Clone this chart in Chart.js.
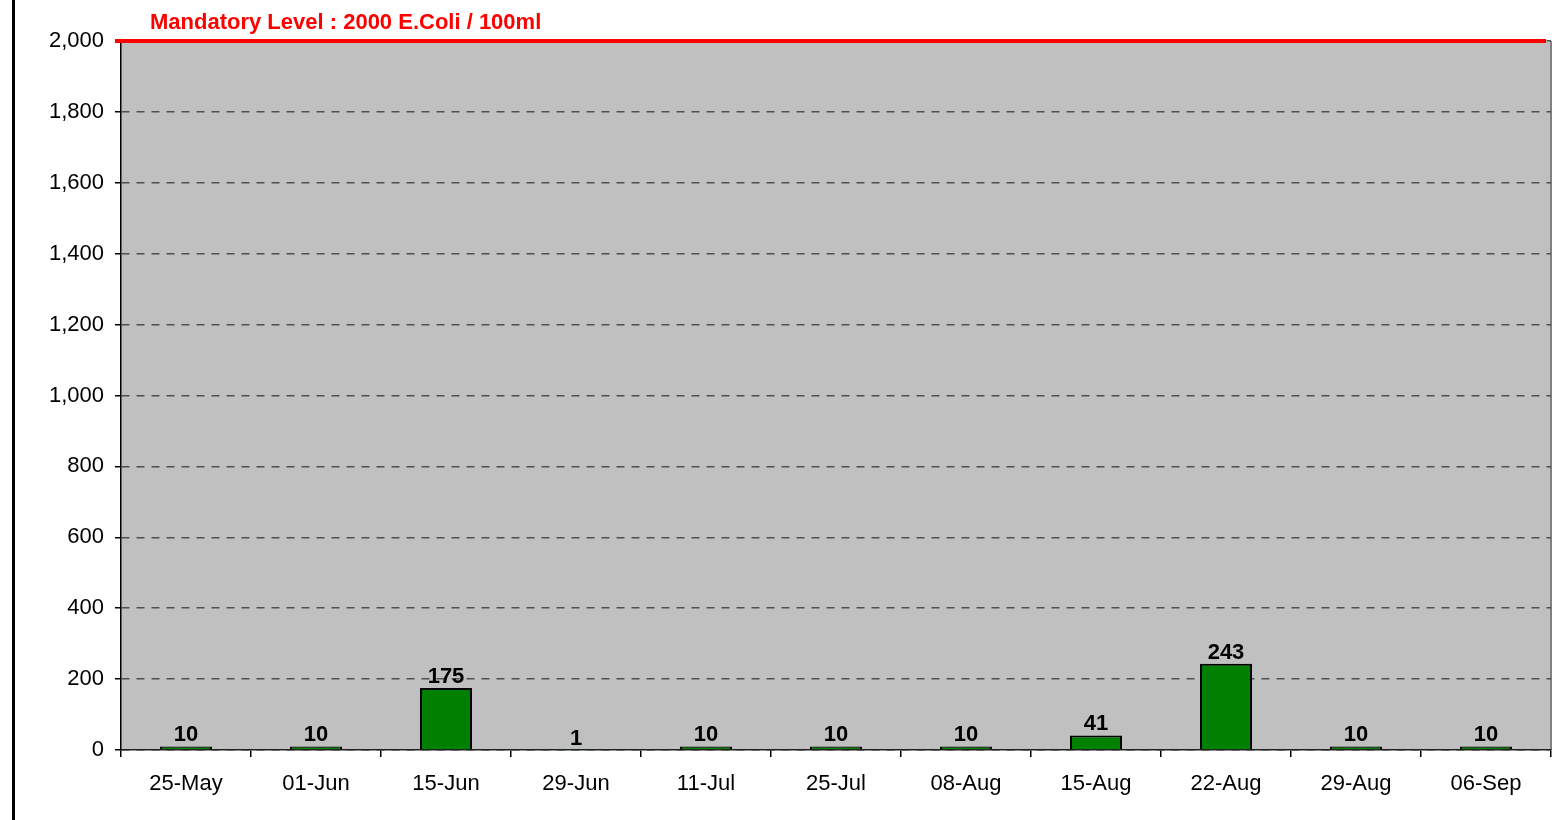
<!DOCTYPE html>
<html>
<head>
<meta charset="utf-8">
<script src="https://cdn.jsdelivr.net/npm/chart.js@4/dist/chart.umd.min.js"></script>
<style>
  html, body { margin: 0; padding: 0; background: #fff; }
  canvas { display: block; }
</style>
</head>
<body>
<canvas id="chart" width="1554" height="820"></canvas>
<script>
const dates = ["25-May", "01-Jun", "15-Jun", "29-Jun", "11-Jul", "25-Jul", "08-Aug", "15-Aug", "22-Aug", "29-Aug", "06-Sep"];
const ecoli = [10, 10, 175, 1, 10, 10, 10, 41, 243, 10, 10];
const mandatoryLevel = 2000;
const levelLabel = "Mandatory Level : 2000 E.Coli / 100ml";

const FONT = "Arial, 'Liberation Sans', sans-serif";

const plotBackground = {
  id: "plotBackground",
  beforeDraw(chart) {
    const { ctx, chartArea: a } = chart;
    ctx.save();
    ctx.fillStyle = "#000";
    ctx.fillRect(12, 0, 3, chart.height);
    ctx.fillStyle = "#c0c0c0";
    ctx.fillRect(a.left, a.top, a.right - a.left, a.bottom - a.top);
    ctx.strokeStyle = "#808080";
    ctx.lineWidth = 2;
    ctx.beginPath();
    ctx.moveTo(a.right, a.top);
    ctx.lineTo(a.right, a.bottom);
    ctx.stroke();
    ctx.restore();
  }
};

const levelLine = {
  id: "levelLine",
  afterDraw(chart) {
    const { ctx, chartArea: a } = chart;
    const y = chart.scales.y.getPixelForValue(mandatoryLevel);
    ctx.save();
    ctx.strokeStyle = "#ff0000";
    ctx.lineWidth = 4;
    ctx.beginPath();
    ctx.moveTo(a.left - 6, y);
    ctx.lineTo(a.right - 5, y);
    ctx.stroke();
    ctx.fillStyle = "#ff0000";
    ctx.font = "bold 22px " + FONT;
    ctx.textAlign = "left";
    ctx.textBaseline = "alphabetic";
    ctx.fillText(levelLabel, a.left + 29, y - 12);
    ctx.restore();
  }
};

const valueLabels = {
  id: "valueLabels",
  afterDatasetsDraw(chart) {
    const { ctx } = chart;
    const meta = chart.getDatasetMeta(0);
    ctx.save();
    ctx.fillStyle = "#000";
    ctx.font = "bold 22px " + FONT;
    ctx.textAlign = "center";
    ctx.textBaseline = "alphabetic";
    meta.data.forEach((bar, i) => {
      ctx.fillText(String(ecoli[i]), bar.x, bar.y - 5);
    });
    ctx.restore();
  }
};

new Chart(document.getElementById("chart"), {
  type: "bar",
  data: {
    labels: dates,
    datasets: [{
      data: ecoli,
      backgroundColor: "#008000",
      borderColor: "#000",
      borderWidth: 2,
      categoryPercentage: 0.8,
      barPercentage: 0.5
    }]
  },
  options: {
    responsive: false,
    animation: false,
    layout: { padding: { top: 41, right: 3, bottom: 0, left: 0 } },
    plugins: {
      legend: { display: false },
      tooltip: { enabled: false },
      title: { display: false }
    },
    scales: {
      x: {
        afterFit(scale) { scale.height = 70; },
        grid: {
          offset: true,
          drawOnChartArea: false,
          drawTicks: true,
          tickLength: 7,
          color: "#000",
          lineWidth: 1.5
        },
        border: { display: true, color: "#202020", width: 1.5 },
        ticks: {
          color: "#000",
          font: { family: FONT, size: 22 },
          padding: 14,
          maxRotation: 0,
          autoSkip: false
        }
      },
      y: {
        min: 0,
        max: 2000,
        afterFit(scale) { scale.width = 121; },
        grid: {
          color: "#505050",
          lineWidth: 1.5,
          drawTicks: true,
          tickLength: 6,
          tickColor: "#000",
          tickBorderDash: []
        },
        border: { display: true, color: "#000", width: 1.5, dash: [8, 7] },
        ticks: {
          stepSize: 200,
          color: "#000",
          font: { family: FONT, size: 22 },
          padding: 11,
          callback: v => v.toLocaleString("en-US")
        }
      }
    }
  },
  plugins: [plotBackground, levelLine, valueLabels]
});
</script>
</body>
</html>
